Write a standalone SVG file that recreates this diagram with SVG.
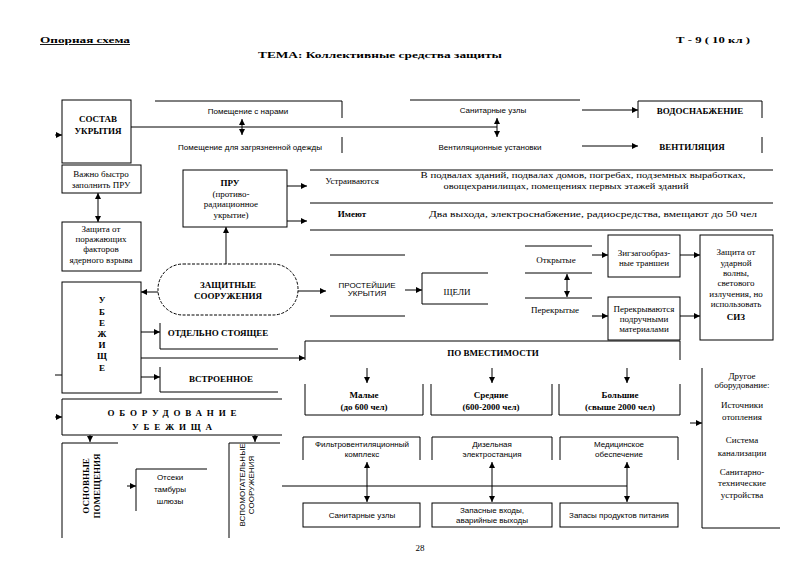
<svg xmlns="http://www.w3.org/2000/svg" width="800" height="565" viewBox="0 0 800 565">
<style>
.ln{stroke:#000;stroke-width:1;fill:none}
.bx{stroke:#000;stroke-width:1;fill:#fff}
.ar{stroke:#000;stroke-width:1;fill:none;marker-end:url(#ah)}
.da{stroke:#000;stroke-width:1;fill:none;marker-end:url(#ah);marker-start:url(#ah)}
text{fill:#000}
.s{font-family:"Liberation Sans",Arial,sans-serif;font-size:8px}
.t{font-family:"Liberation Serif","Times New Roman",serif;font-size:9px}
.b{font-weight:bold}
.m{text-anchor:middle}
</style>
<defs>
<marker id="ah" viewBox="0 0 6 6" refX="6" refY="3" markerWidth="6" markerHeight="6" orient="auto-start-reverse" markerUnits="userSpaceOnUse"><path d="M0,0 L6,3 L0,6 z" fill="#000"/></marker>
</defs>
<rect width="800" height="565" fill="#fff"/>

<g id="header">
<text class="t b" x="40" y="43" font-size="12.5" textLength="90" lengthAdjust="spacingAndGlyphs" text-decoration="underline">Опорная схема</text>
<text class="t b" x="676" y="43" font-size="12.5" textLength="74" lengthAdjust="spacingAndGlyphs">Т - 9 ( 10 кл )</text>
<text class="t b" x="258" y="58" font-size="13.5" textLength="244" lengthAdjust="spacingAndGlyphs">ТЕМА: Коллективные средства защиты</text>
</g>

<g id="connectors">
<line class="ar" x1="55" y1="135" x2="62" y2="135"/>
<line class="ln" x1="131" y1="127" x2="497" y2="127"/>
<line class="da" x1="242" y1="119" x2="242" y2="135"/>
<line class="da" x1="497" y1="118" x2="497" y2="137"/>
<line class="ar" x1="582" y1="110" x2="638" y2="110"/>
<line class="ar" x1="582" y1="146" x2="638" y2="146"/>
<line class="da" x1="98" y1="193" x2="98" y2="222"/>
<line class="ar" x1="287" y1="186" x2="307" y2="186"/>
<line class="ar" x1="287" y1="221" x2="307" y2="221"/>
<line class="ar" x1="226" y1="264" x2="226" y2="227"/>
<line class="ar" x1="158" y1="292" x2="141" y2="292"/>
<line class="ar" x1="298" y1="291" x2="326" y2="291"/>
<line class="ar" x1="405" y1="290" x2="422" y2="290"/>
<line class="da" x1="567" y1="274" x2="567" y2="297"/>
<line class="ar" x1="592" y1="255" x2="608" y2="255"/>
<line class="ar" x1="592" y1="316" x2="608" y2="316"/>
<line class="ar" x1="680" y1="255" x2="700" y2="255"/>
<line class="ar" x1="680" y1="316" x2="700" y2="316"/>
<line class="ln" x1="55" y1="375" x2="62" y2="375"/>
<line class="ar" x1="141" y1="332" x2="160" y2="332"/>
<line class="ar" x1="141" y1="377" x2="160" y2="377"/>
<line class="ar" x1="141" y1="358" x2="305" y2="358"/>
<line class="ar" x1="367" y1="368" x2="367" y2="383"/>
<line class="ar" x1="492" y1="368" x2="492" y2="383"/>
<line class="ar" x1="627" y1="368" x2="627" y2="383"/>
<line class="ar" x1="690" y1="423" x2="702" y2="423"/>
<line class="ar" x1="55" y1="417" x2="62" y2="417"/>
<line class="ar" x1="90" y1="435" x2="90" y2="442"/>
<line class="ar" x1="255" y1="435" x2="255" y2="442"/>
<line class="ar" x1="127" y1="486" x2="136" y2="486"/>
<line class="ln" x1="282" y1="486" x2="627" y2="486"/>
<line class="da" x1="367" y1="462" x2="367" y2="502"/>
<line class="da" x1="492" y1="462" x2="492" y2="502"/>
<line class="da" x1="627" y1="462" x2="627" y2="502"/>
</g>

<g id="sostav">
<rect class="bx" x="62" y="100" width="69" height="63"/>
<text class="t b m" x="98" y="122" font-size="9.5">СОСТАВ</text>
<text class="t b m" x="98" y="134" font-size="9.5">УКРЫТИЯ</text>
</g>
<g id="pom-nary">
<polyline class="ln" points="155,101 342,101 342,118"/>
<text class="s m" x="248" y="114">Помещение с нарами</text>
</g>
<g id="pom-odezhda">
<line class="ln" x1="342" y1="137" x2="342" y2="153"/>
<text class="s m" x="250" y="150">Помещение для загрязненной одежды</text>
</g>
<g id="san-uzly">
<line class="ln" x1="410" y1="100" x2="580" y2="100"/>
<text class="s m" x="493" y="113">Санитарные узлы</text>
</g>
<g id="vent-ust">
<text class="s m" x="490" y="150">Вентиляционные установки</text>
</g>
<g id="vodosnab">
<polyline class="ln" points="638,118 638,101 762,101 762,118"/>
<text class="t b m" x="700" y="114" font-size="9">ВОДОСНАБЖЕНИЕ</text>
</g>
<g id="ventil">
<line class="ln" x1="762" y1="137" x2="762" y2="153"/>
<text class="t b m" x="692" y="150" font-size="9">ВЕНТИЛЯЦИЯ</text>
</g>

<g id="vazhno">
<rect class="bx" x="62" y="165" width="79" height="28"/>
<text class="t m" x="101" y="177" font-size="8.5">Важно быстро</text>
<text class="t m" x="101" y="188" font-size="8.5">заполнить ПРУ</text>
</g>
<g id="zashchita-pf">
<rect class="bx" x="62" y="222" width="79" height="49"/>
<text class="t m" x="101" y="232" font-size="8.5">Защита от</text>
<text class="t m" x="101" y="242" font-size="8.5">поражающих</text>
<text class="t m" x="101" y="252" font-size="8.5">факторов</text>
<text class="t m" x="101" y="263" font-size="8.5">ядерного взрыва</text>
</g>
<g id="pru">
<rect class="bx" x="183" y="170" width="104" height="57"/>
<text class="t b m" x="230" y="186" font-size="11">ПРУ</text>
<text class="t m" x="231" y="197" font-size="8.5">(противо-</text>
<text class="t m" x="231" y="207" font-size="8.5">радиационное</text>
<text class="t m" x="231" y="218" font-size="8.5">укрытие)</text>
</g>
<g id="ustraivayutsya">
<line class="ln" x1="310" y1="170" x2="773" y2="170"/>
<text class="t m" x="352" y="184" font-size="9.5">Устраиваются</text>
<text class="t m" x="583" y="178" font-size="10.5" textLength="325" lengthAdjust="spacingAndGlyphs">В подвалах зданий, подвалах домов, погребах, подземных выработках,</text>
<text class="t m" x="566" y="189" font-size="10.5" textLength="245" lengthAdjust="spacingAndGlyphs">овощехранилищах, помещениях первых этажей зданий</text>
</g>
<g id="imeyut">
<line class="ln" x1="310" y1="203" x2="773" y2="203"/>
<text class="t b m" x="352" y="217" font-size="10">Имеют</text>
<text class="t m" x="593" y="217" font-size="10.5" textLength="328" lengthAdjust="spacingAndGlyphs">Два выхода, электроснабжение, радиосредства, вмещают до 50 чел</text>
<line class="ln" x1="310" y1="230" x2="773" y2="230"/>
</g>

<g id="zashchitnye">
<rect x="158" y="264" width="140" height="51" rx="25" fill="#fff" stroke="#000" stroke-width="1" stroke-dasharray="3 1.5"/>
<text class="t b m" x="228" y="288" font-size="9.5">ЗАЩИТНЫЕ</text>
<text class="t b m" x="228" y="299" font-size="9.5">СООРУЖЕНИЯ</text>
</g>
<g id="prosteishie">
<line class="ln" x1="330" y1="255" x2="405" y2="255"/>
<line class="ln" x1="330" y1="316" x2="405" y2="316"/>
<text class="s m" x="367" y="288">ПРОСТЕЙШИЕ</text>
<text class="s m" x="367" y="296">УКРЫТИЯ</text>
</g>
<g id="shcheli">
<polyline class="ln" points="488,273 422,273 422,304 488,304"/>
<text class="t m" x="457" y="295" font-size="9.5">ЩЕЛИ</text>
</g>
<g id="otkrytye">
<line class="ln" x1="525" y1="246" x2="592" y2="246"/>
<line class="ln" x1="525" y1="273" x2="592" y2="273"/>
<text class="t m" x="556" y="263" font-size="10">Открытые</text>
</g>
<g id="perekrytye">
<line class="ln" x1="525" y1="298" x2="592" y2="298"/>
<text class="t m" x="555" y="313" font-size="8.5">Перекрытые</text>
</g>
<g id="zigzag">
<rect class="bx" x="608" y="235" width="72" height="42"/>
<text class="t m" x="644" y="256" font-size="8.5">Зигзагообраз-</text>
<text class="t m" x="644" y="266" font-size="8.5">ные траншеи</text>
</g>
<g id="perekryvayutsya">
<rect class="bx" x="608" y="297" width="72" height="43"/>
<text class="t m" x="644" y="312" font-size="8.5">Перекрываются</text>
<text class="t m" x="644" y="322" font-size="8.5">подручными</text>
<text class="t m" x="644" y="332" font-size="8.5">материалами</text>
</g>
<g id="udarnaya">
<rect class="bx" x="700" y="235" width="73" height="105"/>
<text class="t m" x="736" y="255" font-size="8.5">Защита от</text>
<text class="t m" x="736" y="266" font-size="8.5">ударной</text>
<text class="t m" x="736" y="276" font-size="8.5">волны,</text>
<text class="t m" x="736" y="286" font-size="8.5">светового</text>
<text class="t m" x="736" y="297" font-size="8.5">излучения, но</text>
<text class="t m" x="736" y="307" font-size="8.5">использовать</text>
<text class="t b m" x="736" y="320" font-size="9.5">СИЗ</text>
</g>

<g id="ubezhishche">
<rect class="bx" x="62" y="282" width="79" height="111"/>
<g class="t b m" font-size="9.5">
<text x="102" y="303">У</text>
<text x="102" y="315">Б</text>
<text x="102" y="326">Е</text>
<text x="102" y="337">Ж</text>
<text x="102" y="348">И</text>
<text x="102" y="359">Щ</text>
<text x="102" y="371">Е</text>
</g>
</g>
<g id="otdelno">
<polyline class="ln" points="160,323 160,349 278,349"/>
<text class="t b m" x="218" y="336" font-size="8.5">ОТДЕЛЬНО СТОЯЩЕЕ</text>
</g>
<g id="vstroennoe">
<polyline class="ln" points="160,367 160,392 278,392"/>
<text class="t b m" x="221" y="382" font-size="11">ВСТРОЕННОЕ</text>
</g>

<g id="vmestimost">
<polyline class="ln" points="305,360 305,341 680,341 680,360"/>
<text class="t b m" x="493" y="356" font-size="11">ПО ВМЕСТИМОСТИ</text>
</g>
<g id="malye">
<polyline class="ln" points="305,384 305,415 423,415 423,384"/>
<text class="t b m" x="364" y="398" font-size="9.5">Малые</text>
<text class="t b m" x="364" y="410" font-size="9.5">(до 600 чел)</text>
</g>
<g id="srednie">
<polyline class="ln" points="431,384 431,415 552,415 552,384"/>
<text class="t b m" x="491" y="398" font-size="9.5">Средние</text>
<text class="t b m" x="491" y="410" font-size="9.5">(600-2000 чел)</text>
</g>
<g id="bolshie">
<polyline class="ln" points="559,384 559,415 680,415 680,384"/>
<text class="t b m" x="620" y="398" font-size="9.5">Большие</text>
<text class="t b m" x="620" y="410" font-size="9.5">(свыше 2000 чел)</text>
</g>
<g id="drugoe">
<polyline class="ln" points="702,368 702,528 780,528"/>
<text class="t m" x="742" y="379" font-size="8.5">Другое</text>
<text class="t m" x="742" y="388" font-size="8.5">оборудование:</text>
<text class="t m" x="742" y="408" font-size="8.5">Источники</text>
<text class="t m" x="742" y="420" font-size="8.5">отопления</text>
<text class="t m" x="742" y="443" font-size="8.5">Система</text>
<text class="t m" x="742" y="456" font-size="8.5">канализации</text>
<text class="t m" x="742" y="475" font-size="8.5">Санитарно-</text>
<text class="t m" x="742" y="486" font-size="8.5">технические</text>
<text class="t m" x="742" y="498" font-size="8.5">устройства</text>
</g>

<g id="oborudovanie">
<polyline class="ln" points="282,399 62,399 62,435 282,435"/>
<text class="t b m" x="172" y="416" font-size="10" textLength="129">ОБОРУДОВАНИЕ</text>
<text class="t b m" x="172" y="430" font-size="10" textLength="80">УБЕЖИЩА</text>
</g>
<g id="osnovnye">
<polyline class="ln" points="118,443 62,443 62,538"/>
<text class="t b m" font-size="10" transform="translate(89,486) rotate(-90)">ОСНОВНЫЕ</text>
<text class="t b m" font-size="10" transform="translate(100,486) rotate(-90)">ПОМЕЩЕНИЯ</text>
</g>
<g id="otseki">
<polyline class="ln" points="207,469 136,469 136,511"/>
<text class="s m" x="170" y="480">Отсеки</text>
<text class="s m" x="170" y="492">тамбуры</text>
<text class="s m" x="170" y="504">шлюзы</text>
</g>
<g id="vspomogatelnye">
<polyline class="ln" points="280,443 229,443 229,538"/>
<text class="s m" font-size="7" transform="translate(245,485) rotate(-90)">ВСПОМОГАТЕЛЬНЫЕ</text>
<text class="s m" font-size="7" transform="translate(254,485) rotate(-90)">СООРУЖЕНИЯ</text>
</g>

<g id="filtr">
<polyline class="ln" points="303,460 303,437 420,437 420,460"/>
<text class="s m" x="362" y="447">Фильтровентиляционный</text>
<text class="s m" x="362" y="457">комплекс</text>
</g>
<g id="dizel">
<polyline class="ln" points="432,460 432,437 552,437 552,460"/>
<text class="s m" x="492" y="447">Дизельная</text>
<text class="s m" x="492" y="457">электростанция</text>
</g>
<g id="medic">
<polyline class="ln" points="560,460 560,437 678,437 678,460"/>
<text class="s m" x="619" y="447">Медицинское</text>
<text class="s m" x="619" y="457">обеспечение</text>
</g>
<g id="san-uzly-2">
<rect class="bx" x="303" y="503" width="117" height="24"/>
<text class="s m" x="362" y="518">Санитарные узлы</text>
</g>
<g id="zapasnye">
<rect class="bx" x="432" y="503" width="120" height="24"/>
<text class="s m" x="492" y="513">Запасные входы,</text>
<text class="s m" x="492" y="523">аварийные выходы</text>
</g>
<g id="produkty">
<rect class="bx" x="560" y="503" width="118" height="24"/>
<text class="s m" x="619" y="518">Запасы продуктов питания</text>
</g>

<g id="page">
<text class="t m" x="420" y="551" font-size="10">28</text>
</g>
</svg>
